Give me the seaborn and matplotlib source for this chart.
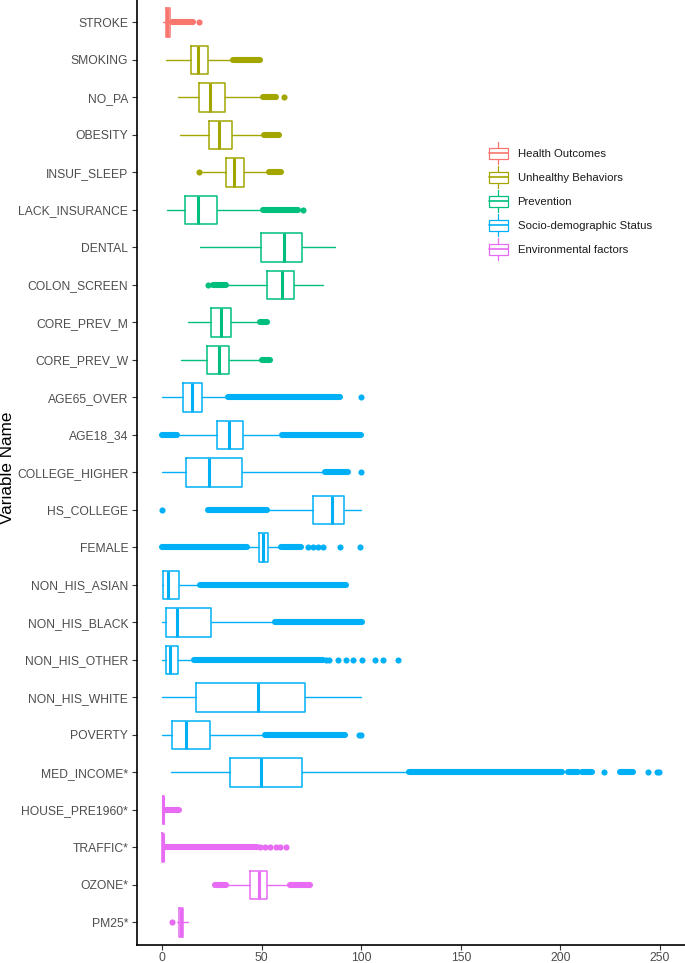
import matplotlib
matplotlib.use("Agg")
import matplotlib.pyplot as plt
import seaborn as sns
from matplotlib.legend_handler import HandlerBase
from matplotlib.patches import Rectangle, Patch
from matplotlib.lines import Line2D

sns.set_theme(style="white")
plt.rcParams['font.family'] = ['Liberation Sans', 'DejaVu Sans']

# variables, top to bottom
variables = ["STROKE", "SMOKING", "NO_PA", "OBESITY", "INSUF_SLEEP",
             "LACK_INSURANCE", "DENTAL", "COLON_SCREEN", "CORE_PREV_M", "CORE_PREV_W",
             "AGE65_OVER", "AGE18_34", "COLLEGE_HIGHER", "HS_COLLEGE", "FEMALE",
             "NON_HIS_ASIAN", "NON_HIS_BLACK", "NON_HIS_OTHER", "NON_HIS_WHITE", "POVERTY",
             "MED_INCOME*", "HOUSE_PRE1960*", "TRAFFIC*", "OZONE*", "PM25*"]

groups = ["Health Outcomes",
          "Unhealthy Behaviors", "Unhealthy Behaviors", "Unhealthy Behaviors", "Unhealthy Behaviors",
          "Prevention", "Prevention", "Prevention", "Prevention", "Prevention",
          "Socio-demographic Status", "Socio-demographic Status", "Socio-demographic Status",
          "Socio-demographic Status", "Socio-demographic Status", "Socio-demographic Status",
          "Socio-demographic Status", "Socio-demographic Status", "Socio-demographic Status",
          "Socio-demographic Status", "Socio-demographic Status",
          "Environmental factors", "Environmental factors", "Environmental factors",
          "Environmental factors"]

group_names = ["Health Outcomes", "Unhealthy Behaviors", "Prevention",
               "Socio-demographic Status", "Environmental factors"]
group_colors = ["#F8766D", "#A3A500", "#00BF7D", "#00B0F6", "#E76BF3"]

# box statistics
whislo = [0.7, 2.0, 8.2, 9.0, 19.9, 2.7, 19.1, 33.3, 13.2, 9.5,
          0.2, 9.0, 0.2, 53.0, 43.0, 0.2, 0.2, 0.2, 0.2, 0.2,
          4.4, 0.0, 0.0, 33.0, 7.5]
q1 = [2.0, 14.4, 18.4, 23.7, 32.4, 11.7, 49.5, 52.5, 24.7, 22.7,
      10.5, 27.4, 12.0, 75.6, 48.5, 0.7, 2.2, 2.0, 17.0, 5.0,
      34.1, 0.3, 0.1, 44.1, 8.7]
med = [2.8, 18.2, 24.1, 28.4, 36.1, 18.2, 61.2, 60.5, 29.8, 28.6,
       14.9, 33.6, 23.6, 85.4, 50.9, 3.2, 7.4, 4.2, 48.0, 11.9,
       49.5, 0.6, 0.3, 48.6, 9.5]
q3 = [4.0, 23.2, 31.8, 35.0, 41.3, 27.4, 70.4, 66.5, 34.6, 33.9,
      19.9, 40.8, 40.3, 91.4, 53.4, 8.7, 24.4, 8.2, 72.0, 23.9,
      70.4, 1.0, 0.6, 52.8, 10.7]
whishi = [5.0, 35.0, 50.0, 50.5, 53.0, 50.0, 86.8, 80.9, 48.3, 49.0,
          32.4, 60.0, 81.7, 100.0, 59.2, 18.7, 56.7, 15.7, 99.7, 50.8,
          123.5, 1.6, 1.4, 63.3, 13.2]

# runs of outliers so dense they merge into a band (start, end)
outlier_runs = [
    [(5.2, 15.5)],
    [(35.5, 49.0)],
    [(50.8, 57.5)],
    [(51.0, 59.0)],
    [(53.5, 60.0)],
    [(50.5, 68.4)],
    [],
    [(25.7, 32.4)],
    [(49.0, 52.5)],
    [(50.0, 54.2)],
    [(33.3, 89.3)],
    [(-0.2, 7.4), (60.5, 100.0)],
    [(82.0, 93.3)],
    [(23.2, 52.5)],
    [(0.0, 42.5), (60.0, 70.0)],
    [(19.0, 92.3)],
    [(57.0, 100.6)],
    [(15.9, 80.9)],
    [],
    [(51.6, 91.8)],
    [(124.0, 201.0), (203.6, 208.6), (211.0, 215.6), (229.7, 236.2)],
    [(2.0, 8.5)],
    [(1.5, 47.5)],
    [(26.6, 32.4), (64.2, 74.2)],
    [],
]

# isolated outlier points
outlier_points = [
    [18.6], [], [61.2], [], [18.6], [70.9], [], [23.2], [], [],
    [100.0], [], [100.0], [0.2], [73.4, 75.9, 78.4, 80.9, 89.6, 99.6],
    [], [], [82.5, 84.0, 88.4, 92.6, 95.9, 100.2, 106.8, 111.0, 118.5], [], [99.0, 100.0],
    [221.7, 243.7, 248.2, 249.5], [], [49.1, 51.6, 54.2, 57.2, 59.5, 62.2], [], [5.2],
]

color_of = dict(zip(group_names, group_colors))

fig = plt.figure(figsize=(6.85, 9.63), dpi=100)
ax = fig.add_axes([0.2, 0.0187, 0.8, 0.9813])

dot_pt = 4.4
for i, var in enumerate(variables):
    c = color_of[groups[i]]
    stats = [dict(whislo=whislo[i], q1=q1[i], med=med[i], q3=q3[i], whishi=whishi[i], label=var)]
    ax.bxp(stats, positions=[i], widths=0.75, orientation="horizontal",
           showfliers=False, showcaps=False, patch_artist=False,
           boxprops=dict(color=c, linewidth=1.1),
           whiskerprops=dict(color=c, linewidth=1.0),
           medianprops=dict(color=c, linewidth=2.2, solid_capstyle="butt"))
    for a, b in outlier_runs[i]:
        ax.plot([a, b], [i, i], color=c, linewidth=dot_pt, solid_capstyle="round", zorder=3)
    if outlier_points[i]:
        sns.scatterplot(x=outlier_points[i], y=[i] * len(outlier_points[i]), ax=ax,
                        color=c, s=dot_pt ** 2, linewidth=0, zorder=3, legend=False)

ax.set_ylim(len(variables) - 0.4, -0.6)
ax.set_xlim(-12.5, 262.5)
ax.set_yticks(range(len(variables)))
ax.set_yticklabels(variables)
ax.set_xticks([0, 50, 100, 150, 200, 250])
ax.tick_params(axis="both", which="major", length=3.8, width=0.8, color="#333333",
               labelsize=8.7, labelcolor="#4D4D4D", pad=2.5, left=True, bottom=True)
ax.tick_params(axis="x", pad=1.5)
ax.set_ylabel("")
ax.set_xlabel("")
fig.text(8 / 685, 1 - 468 / 963, "Variable Name", rotation=90, fontsize=12.3,
         color="black", ha="center", va="center")
sns.despine(ax=ax, top=True, right=True)
for s in ["left", "bottom"]:
    ax.spines[s].set_color("black")
    ax.spines[s].set_linewidth(1.2)


class BoxKey(HandlerBase):
    def create_artists(self, legend, orig_handle, xdescent, ydescent,
                       width, height, fontsize, trans):
        c = orig_handle.get_edgecolor()
        x0, y0 = -xdescent, -ydescent
        bh = height * 0.95
        by = y0 + (height - bh) / 2
        cx = x0 + width / 2
        rect = Rectangle((x0, by), width, bh, fill=False, edgecolor=c, lw=0.9, transform=trans)
        mid = Line2D([x0, x0 + width], [y0 + height / 2] * 2, color=c, lw=1.2, transform=trans)
        w1 = Line2D([cx, cx], [y0 - 3.5, by], color=c, lw=0.9, transform=trans)
        w2 = Line2D([cx, cx], [by + bh, y0 + height + 3.5], color=c, lw=0.9, transform=trans)
        return [rect, mid, w1, w2]


handles = [Patch(facecolor="none", edgecolor=col) for col in group_colors]
fig.legend(handles, group_names, handler_map={Patch: BoxKey()},
           loc="upper left", bbox_to_anchor=(0.714, 0.847), bbox_transform=fig.transFigure,
           frameon=False, fontsize=8.2, handlelength=1.65, handleheight=1.2,
           labelspacing=1.08, handletextpad=0.85, borderpad=0, borderaxespad=0,
           labelcolor="#1a1a1a")

fig.savefig("out.png", dpi=100)
